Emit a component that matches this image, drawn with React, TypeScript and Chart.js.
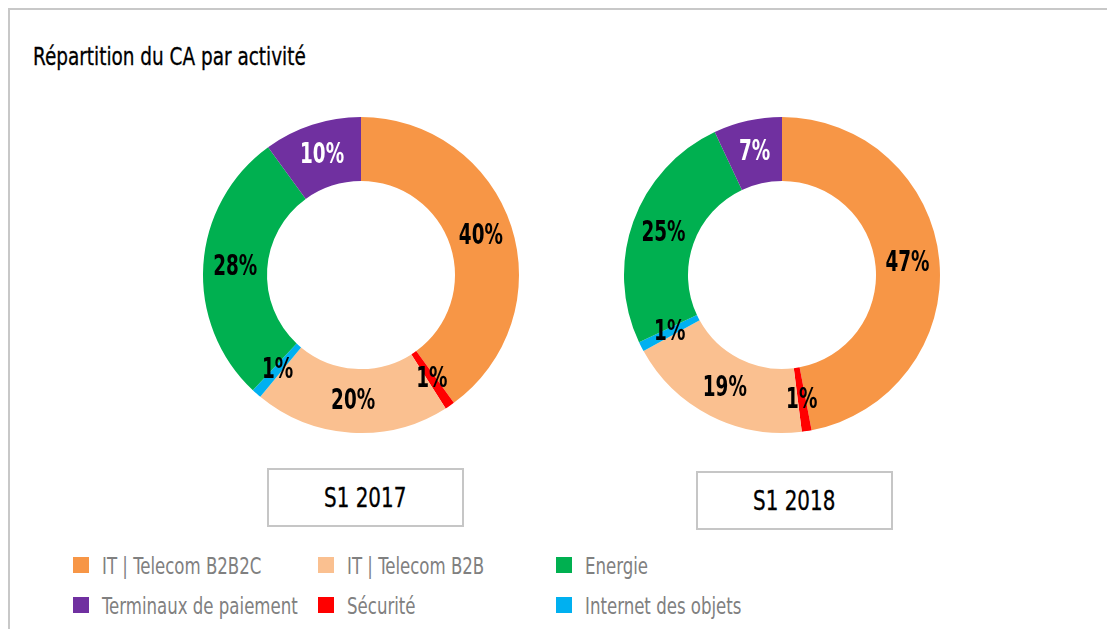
import React, { useEffect, useRef } from "react";
import { Chart, registerables } from "chart.js";

Chart.register(...registerables);

// ---- Data ----
const categories = [
  "IT | Telecom B2B2C",
  "Sécurité",
  "IT | Telecom B2B",
  "Internet des objets",
  "Energie",
  "Terminaux de paiement",
];
const colors = ["#F79646", "#FF0000", "#FAC090", "#00B0F0", "#00B050", "#7030A0"];
const labelColors = ["#000", "#000", "#000", "#000", "#000", "#fff"];
const values2017 = [40, 1, 20, 1, 28, 10];
const values2018 = [47, 1, 19, 1, 25, 7];
const periods = ["S1 2017", "S1 2018"];
const legendOrder = [0, 2, 4, 5, 1, 3];
const title = "Répartition du CA par activité";

const FONT = '"DejaVu Sans Condensed", "DejaVu Sans", sans-serif';
const SX = 0.82; // horizontal squeeze to mimic a condensed typeface

const labelPlugin = {
  id: "sliceLabels",
  afterDatasetsDraw(chart: any) {
    const ctx = chart.ctx;
    const meta = chart.getDatasetMeta(0);
    const data = chart.data.datasets[0].data as number[];
    ctx.save();
    ctx.font = `bold 28px ${FONT}`;
    ctx.textAlign = "center";
    ctx.textBaseline = "middle";
    meta.data.forEach((arc: any, i: number) => {
      const p = arc.tooltipPosition();
      ctx.save();
      ctx.translate(p.x, p.y + 1);
      ctx.scale(0.73, 1);
      ctx.fillStyle = labelColors[i];
      ctx.fillText(`${data[i]}%`, 0, 0);
      ctx.restore();
    });
    ctx.restore();
  },
};

function Donut({ values, left, top }: { values: number[]; left: number; top: number }) {
  const ref = useRef<HTMLCanvasElement | null>(null);
  useEffect(() => {
    if (!ref.current) return;
    const chart = new Chart(ref.current, {
      type: "doughnut",
      data: {
        labels: categories,
        datasets: [
          {
            data: values,
            backgroundColor: colors,
            borderWidth: 0,
            hoverOffset: 0,
          },
        ],
      },
      options: {
        responsive: false,
        animation: false,
        cutout: "59.5%",
        layout: { padding: 12 },
        plugins: { legend: { display: false }, tooltip: { enabled: false } },
      },
      plugins: [labelPlugin],
    });
    return () => chart.destroy();
  }, [values]);
  return (
    <canvas
      ref={ref}
      width={340}
      height={340}
      style={{ position: "absolute", left, top, width: 340, height: 340 }}
    />
  );
}

const squeeze: React.CSSProperties = {
  display: "inline-block",
  transform: `scaleX(${SX})`,
  transformOrigin: "left center",
  whiteSpace: "nowrap",
};

export default function App() {
  const boxes = [
    { left: 267, top: 468 },
    { left: 696, top: 471 },
  ];
  const legendPos = [
    { x: 73, y: 557 },
    { x: 318, y: 557 },
    { x: 556, y: 557 },
    { x: 73, y: 597 },
    { x: 318, y: 597 },
    { x: 556, y: 597 },
  ];
  return (
    <div
      style={{
        position: "absolute",
        left: 0,
        top: 0,
        width: 1107,
        height: 629,
        overflow: "hidden",
        background: "#fff",
        fontFamily: FONT,
      }}
    >
      <div
        style={{
          position: "absolute",
          left: 8,
          top: 8,
          width: 1099,
          height: 621,
          borderTop: "2px solid #c8c8c8",
          borderLeft: "2px solid #c8c8c8",
          boxSizing: "border-box",
        }}
      />
      <div
        style={{
          position: "absolute",
          left: 33,
          top: 44,
          fontSize: 25,
          lineHeight: "25px",
          color: "#000",
          whiteSpace: "nowrap",
        }}
      >
        <span style={{ ...squeeze, WebkitTextStroke: "0.3px #000" }}>{title}</span>
      </div>
      <Donut values={values2017} left={191} top={105} />
      <Donut values={values2018} left={612} top={105} />
      {boxes.map((b, i) => (
        <div
          key={i}
          style={{
            position: "absolute",
            left: b.left,
            top: b.top,
            width: 197,
            height: 59,
            border: "2px solid #c6c6c6",
            boxSizing: "border-box",
            display: "flex",
            alignItems: "center",
            justifyContent: "center",
            fontSize: 27,
            lineHeight: "27px",
            color: "#000",
          }}
        >
          <span
            style={{
              display: "inline-block",
              transform: `scaleX(${SX})`,
              transformOrigin: "center center",
              whiteSpace: "nowrap",
              WebkitTextStroke: "0.3px #000",
            }}
          >
            {periods[i]}
          </span>
        </div>
      ))}
      {legendOrder.map((ci, k) => (
        <React.Fragment key={ci}>
          <div
            style={{
              position: "absolute",
              left: legendPos[k].x,
              top: legendPos[k].y,
              width: 16,
              height: 16,
              background: colors[ci],
            }}
          />
          <div
            style={{
              position: "absolute",
              left: legendPos[k].x + 29,
              top: legendPos[k].y - 2,
              fontSize: 22.5,
              lineHeight: "22.5px",
              color: "#808080",
              whiteSpace: "nowrap",
            }}
          >
            <span style={squeeze}>{categories[ci]}</span>
          </div>
        </React.Fragment>
      ))}
    </div>
  );
}
